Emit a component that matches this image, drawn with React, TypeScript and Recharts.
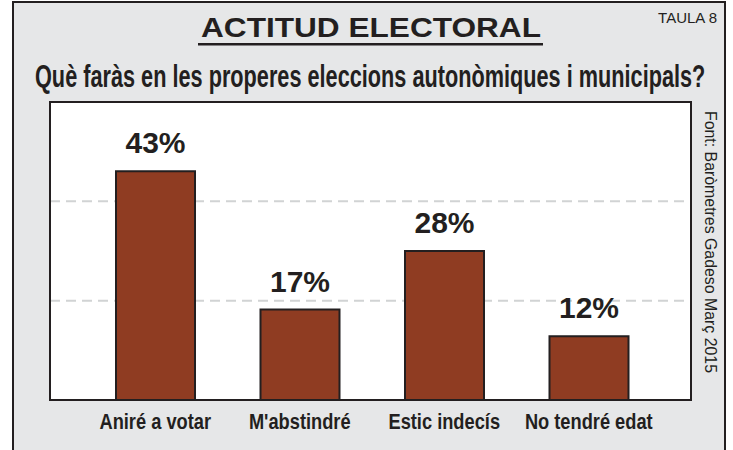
import React from 'react';
import { BarChart, Bar, XAxis, YAxis, CartesianGrid, LabelList } from 'recharts';

const categories = ['Aniré a votar', "M'abstindré", 'Estic indecís', 'No tendré edat'];
const percentages = [43, 17, 28, 12];
const gridTicks = [56 / 3, 112 / 3];

const data = categories.map((name, i) => ({ name, value: percentages[i] }));

const INK = '#231f20';
const FONT = '"Liberation Sans", Arial, sans-serif';

const CategoryTick = (props: any) => {
  const { x, y, payload } = props;
  return (
    <g transform={`translate(${x},${y})`}>
      <text
        transform="scale(0.83,1)"
        y={21}
        textAnchor="middle"
        fill={INK}
        fontSize={22}
        fontWeight="bold"
        fontFamily={FONT}
      >
        {payload.value}
      </text>
    </g>
  );
};

const App: React.FC = () => {
  return (
    <div style={{ position: 'fixed', left: 0, top: 0, width: 733, height: 450, background: '#fff', overflow: 'hidden' }}>
      {/* page frame */}
      <div
        style={{
          position: 'absolute', left: 12, top: 1, width: 714, height: 470,
          background: '#e6e7e8', border: `2.5px solid ${INK}`, boxSizing: 'border-box',
        }}
      />
      {/* plot box background */}
      <div style={{ position: 'absolute', left: 50, top: 102, width: 641, height: 298, background: '#fff' }} />
      <div style={{ position: 'absolute', left: 0, top: 0 }}>
        <BarChart width={733} height={450} data={data} margin={{ top: 102, right: 42, bottom: 10, left: 50 }}>
          <CartesianGrid vertical={false} horizontal stroke="#d1d3d4" strokeWidth={2} strokeDasharray="10 6" />
          <XAxis
            dataKey="name"
            axisLine={false}
            tickLine={false}
            height={40}
            padding={{ left: 33, right: 30 }}
            tick={<CategoryTick />}
            interval={0}
          />
          <YAxis hide domain={[0, 56]} ticks={gridTicks} />
          <Bar dataKey="value" fill="#8f3c22" stroke={INK} strokeWidth={2} barSize={79} isAnimationActive={false}>
            <LabelList
              dataKey="value"
              position="top"
              offset={18}
              formatter={(v: any) => `${v}%`}
              fill={INK}
              fontSize={30}
              fontWeight="bold"
              fontFamily={FONT}
            />
          </Bar>
        </BarChart>
      </div>
      <svg width={733} height={450} style={{ position: 'absolute', left: 0, top: 0, pointerEvents: 'none' }}>
        {/* plot box border */}
        <rect x={50} y={102} width={641} height={298} fill="none" stroke={INK} strokeWidth={2} />
        <text x={201} y={37} fontSize={27} fontWeight="bold" fontFamily={FONT} fill={INK} textLength={340} lengthAdjust="spacingAndGlyphs">
          ACTITUD ELECTORAL
        </text>
        <rect x={198} y={43} width={345} height={2.5} fill={INK} />
        <text x={717} y={23} fontSize={15} fontFamily={FONT} fill={INK} textAnchor="end">
          TAULA 8
        </text>
        <text transform="translate(35,87) scale(0.7,1)" fontSize={31} fontWeight="bold" fontFamily={FONT} fill={INK}>
          Què faràs en les properes eleccions autonòmiques i municipals?
        </text>
        <text transform="translate(705,111) rotate(90)" fontSize={16} fontFamily={FONT} fill={INK} textLength={262} lengthAdjust="spacingAndGlyphs">
          Font: Baròmetres Gadeso Març 2015
        </text>
      </svg>
    </div>
  );
};

export default App;
